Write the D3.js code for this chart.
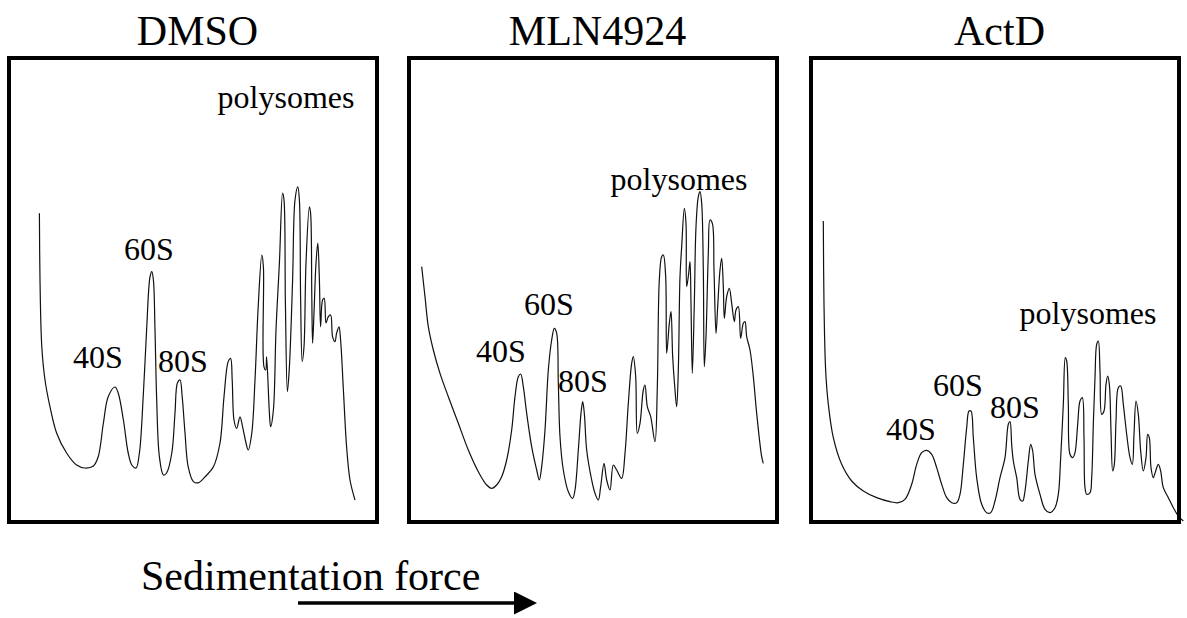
<!DOCTYPE html>
<html lang="en">
<head>
    <meta charset="UTF-8">
    <title>Polysome profiles</title>
    <script src="https://d3js.org/d3.v7.min.js"></script>
    <style>
        body { margin: 0; background: #fff; }
        text { font-family: "Liberation Serif", "Times New Roman", serif; fill: #000; }
    </style>
</head>
<body>
    <svg id="chart"></svg>

    <script>
        // Traces: [position along gradient (mm), A254 (mm)]
        var dmsoTrace = [
            [7.6, 77.2], [7.75, 60.5], [8.2, 43.8], [9.0, 35.5], [10.25, 28.8], [11.9, 22.25], [14.4, 17.25],
            [16.9, 14.25], [19.0, 13.5], [21.1, 14.0], [22.3, 16.3], [23.6, 24.75], [24.8, 31.3], [26.5, 33.75],
            [27.3, 32.25], [28.6, 25.5], [29.8, 17.25], [30.7, 14.25], [31.75, 13.5], [32.6, 17.25], [33.6, 32.25],
            [34.4, 48.0], [35.25, 61.3], [35.7, 62.6], [36.1, 60.5], [36.5, 48.0], [36.9, 31.3], [37.6, 16.3],
            [38.6, 11.75], [39.4, 12.25], [40.7, 17.25], [41.5, 27.25], [42.1, 34.75], [42.75, 35.5], [43.3, 31.3],
            [44.0, 22.25], [44.8, 13.8], [46.1, 10.1], [47.3, 9.8], [49.0, 11.3], [51.1, 13.8], [52.75, 19.75],
            [53.75, 31.3], [54.8, 40.1], [55.4, 40.9], [55.8, 35.5], [56.25, 25.5], [56.9, 23.4], [57.75, 26.3],
            [58.4, 23.8], [59.25, 19.75], [59.8, 18.0], [60.7, 22.25], [61.5, 35.5], [62.3, 53.8], [63.2, 66.75],
            [63.6, 63.8], [63.75, 38.8], [64.2, 38.0], [64.4, 41.3], [65.1, 27.25], [65.4, 23.8], [66.1, 28.0],
            [66.75, 48.0], [67.6, 64.75], [68.4, 82.2], [68.75, 80.5], [69.1, 54.75], [69.6, 32.6], [70.1, 38.8],
            [70.9, 60.5], [71.5, 80.5], [72.2, 83.8], [72.6, 80.5], [72.9, 56.3], [73.3, 40.1], [73.75, 43.8],
            [74.25, 64.75], [75.1, 78.8], [75.4, 77.2], [75.7, 56.3], [75.9, 44.7], [76.25, 52.2], [76.75, 64.75],
            [77.2, 69.7], [77.6, 60.5], [77.9, 48.8], [78.4, 55.5], [78.8, 55.9], [79.25, 49.75], [79.8, 51.3],
            [80.4, 51.75], [80.9, 46.3], [81.5, 45.1], [81.9, 47.2], [82.5, 48.8], [82.9, 45.5], [83.6, 33.0],
            [84.4, 18.8], [85.25, 10.5], [86.5, 5.5]
        ];

        var mlnTrace = [
            [3.17, 63.83], [4.0, 56.33], [4.83, 48.83], [6.08, 43.0], [7.75, 37.17], [9.83, 31.33], [12.33, 24.67],
            [14.83, 18.0], [17.33, 12.58], [19.42, 9.25], [20.67, 8.42], [21.92, 9.25], [23.17, 11.33], [24.42, 15.5],
            [25.67, 23.0], [26.5, 31.33], [27.33, 36.33], [27.92, 37.0], [28.58, 33.83], [29.42, 27.17], [30.67, 18.83],
            [31.92, 13.0], [32.58, 10.5], [33.17, 13.83], [34.0, 23.0], [34.83, 38.0], [35.67, 45.5], [36.33, 48.42],
            [36.92, 47.17], [37.33, 34.67], [37.75, 21.33], [38.58, 13.0], [39.83, 7.58], [40.92, 5.92], [41.5, 8.0],
            [42.33, 18.0], [43.0, 27.17], [43.42, 30.08], [43.83, 27.17], [44.42, 18.0], [45.67, 10.5], [46.5, 7.17],
            [47.33, 5.5], [47.92, 8.83], [48.75, 14.67], [49.42, 10.5], [50.25, 8.0], [51.08, 14.25], [51.92, 13.0],
            [53.17, 10.92], [54.0, 17.17], [54.83, 29.67], [55.67, 39.67], [56.08, 41.33], [56.67, 36.33], [57.08, 22.17],
            [57.75, 24.67], [58.58, 33.0], [59.0, 34.25], [59.58, 28.83], [60.42, 26.33], [61.5, 20.08], [62.08, 33.83],
            [62.58, 60.5], [63.17, 66.33], [63.58, 66.75], [64.17, 61.33], [64.42, 42.17], [65.08, 49.67], [65.5, 52.58],
            [65.92, 41.33], [66.5, 33.0], [66.92, 28.83], [67.33, 38.0], [67.75, 61.33], [68.17, 68.83], [68.83, 78.42],
            [69.25, 74.67], [69.42, 58.83], [69.92, 62.17], [70.25, 65.08], [70.5, 54.67], [70.83, 37.17], [71.33, 54.67],
            [71.75, 73.83], [72.33, 81.33], [72.75, 82.58], [73.17, 79.67], [73.58, 63.0], [73.83, 38.83], [74.25, 46.33],
            [74.83, 67.17], [75.25, 75.5], [75.83, 74.67], [76.25, 63.0], [76.75, 47.17], [77.17, 53.83], [77.75, 63.0],
            [78.17, 65.92], [78.58, 58.83], [78.83, 50.92], [79.42, 56.33], [80.08, 58.42], [80.67, 54.67], [81.33, 50.08],
            [81.75, 53.0], [82.33, 53.83], [82.92, 45.92], [83.58, 49.67], [84.0, 50.08], [84.42, 46.33], [85.25, 43.0],
            [86.08, 36.33], [86.92, 27.17], [88.17, 16.33], [88.58, 14.67]
        ];

        var actdTrace = [
            [3.08, 75.25], [3.25, 54.42], [3.67, 37.75], [4.33, 29.42], [5.58, 21.08], [7.67, 14.42], [10.17, 10.25],
            [13.08, 7.75], [16.42, 6.08], [19.75, 5.08], [21.83, 4.83], [23.5, 5.67], [25.17, 9.42], [26.42, 14.42],
            [27.67, 17.33], [28.92, 17.92], [30.17, 16.92], [31.42, 13.58], [32.67, 9.42], [33.92, 6.08], [35.17, 4.83],
            [36.42, 4.83], [37.25, 6.92], [38.08, 14.42], [38.92, 23.58], [39.5, 27.75], [40.0, 27.75], [40.58, 21.08],
            [41.42, 11.08], [42.67, 4.42], [43.92, 2.33], [44.92, 2.33], [46.0, 5.25], [47.25, 11.08], [48.5, 16.08],
            [49.33, 24.42], [49.75, 25.08], [50.17, 19.42], [50.58, 15.25], [51.42, 11.08], [52.25, 5.67], [52.92, 5.25],
            [53.5, 7.75], [54.33, 15.25], [54.92, 19.42], [55.42, 17.75], [56.0, 11.92], [57.25, 6.92], [58.5, 3.17],
            [59.75, 2.33], [61.0, 3.58], [61.83, 6.92], [62.42, 16.08], [63.08, 29.42], [63.58, 41.08], [63.92, 40.25],
            [64.33, 29.42], [64.75, 16.92], [65.42, 16.08], [66.0, 17.33], [66.67, 24.42], [67.25, 30.25], [67.83, 31.08],
            [68.25, 21.08], [68.5, 8.58], [68.92, 6.92], [69.75, 7.33], [70.17, 11.08], [70.58, 24.42], [71.0, 36.08],
            [71.42, 44.42], [71.83, 45.25], [72.25, 37.75], [72.67, 26.92], [73.25, 27.75], [73.75, 34.42], [74.17, 36.5],
            [74.58, 34.42], [75.0, 22.75], [75.42, 12.75], [75.83, 14.42], [76.25, 25.25], [76.83, 33.58], [77.42, 34.0],
            [78.08, 29.42], [78.92, 21.92], [79.75, 16.08], [80.33, 14.42], [80.75, 21.92], [81.25, 30.25], [81.83, 26.92],
            [82.42, 17.75], [83.08, 12.75], [83.75, 16.08], [84.17, 21.92], [84.58, 21.08], [85.0, 13.58], [85.58, 11.08],
            [86.17, 12.75], [86.83, 14.42], [87.42, 12.75], [88.08, 8.58], [89.33, 6.08], [90.58, 3.58], [91.83, 1.5],
            [93.08, 0.25]
        ];

        var panelTitles = ["DMSO", "MLN4924", "ActD"];

        // peak annotations, anchored in trace units
        var dmsoLabels = [["40S", 22.25, 38.5], ["60S", 35, 65.5], ["80S", 43.5, 37.5], ["polysomes", 69.25, 103.5]];
        var mlnLabels = [["40S", 23, 40], ["60S", 35, 51.75], ["80S", 43.5, 32.5], ["polysomes", 67.5, 83]];
        var actdLabels = [["40S", 25, 20.5], ["60S", 36.75, 31.5], ["80S", 51, 26], ["polysomes", 69.25, 49.5]];

        var axisLabel = "Sedimentation force";

        (function () {
            var W = 1187, H = 618;
            var svg = d3.select('#chart').attr('width', W).attr('height', H);

            var panelW = 369, panelH = 464, panelTop = 58;
            var panelLeft = [9, 409, 811];
            var traces = [dmsoTrace, mlnTrace, actdTrace];
            var labels = [dmsoLabels, mlnLabels, actdLabels];

            var xScale = d3.scaleLinear().domain([0, panelW / 4]).range([0, panelW]);
            var yScale = d3.scaleLinear().domain([0, panelH / 4]).range([panelH, 0]);

            var line = d3.line()
                .x(d => xScale(d[0]))
                .y(d => yScale(d[1]))
                .curve(d3.curveCatmullRom.alpha(0.5));

            panelTitles.forEach(function (title, i) {
                var g = svg.append('g')
                    .attr('transform', 'translate(' + panelLeft[i] + ',' + panelTop + ')');

                // title above the box
                g.append('text')
                    .attr('x', panelW / 2 + 4)
                    .attr('y', -13)
                    .attr('text-anchor', 'middle')
                    .style('font-size', '42px')
                    .text(title);

                g.append('path')
                    .datum(traces[i])
                    .attr('d', line)
                    .attr('fill', 'none')
                    .attr('stroke', '#111')
                    .attr('stroke-width', 1.2);

                g.selectAll('.peak')
                    .data(labels[i])
                    .enter()
                    .append('text')
                    .attr('class', 'peak')
                    .attr('x', d => xScale(d[1]))
                    .attr('y', d => yScale(d[2]))
                    .attr('text-anchor', 'middle')
                    .style('font-size', '32px')
                    .text(d => d[0]);

                g.append('rect')
                    .attr('x', 0)
                    .attr('y', 0)
                    .attr('width', panelW - 1)
                    .attr('height', panelH)
                    .attr('fill', 'none')
                    .attr('stroke', '#000')
                    .attr('stroke-width', 4);
            });

            // sedimentation arrow
            svg.append('defs').append('marker')
                .attr('id', 'head')
                .attr('viewBox', '0 0 10 10')
                .attr('refX', 0)
                .attr('refY', 5)
                .attr('markerWidth', 25)
                .attr('markerHeight', 23)
                .attr('markerUnits', 'userSpaceOnUse')
                .attr('orient', 'auto')
                .append('path')
                .attr('d', 'M0,0 L10,5 L0,10 Z')
                .attr('fill', '#000');

            svg.append('line')
                .attr('x1', 298)
                .attr('x2', 514)
                .attr('y1', 603)
                .attr('y2', 603)
                .attr('stroke', '#000')
                .attr('stroke-width', 3.5)
                .attr('marker-end', 'url(#head)');

            svg.append('text')
                .attr('x', 141)
                .attr('y', 590)
                .style('font-size', '42px')
                .text(axisLabel);
        })();
    </script>
</body>
</html>
